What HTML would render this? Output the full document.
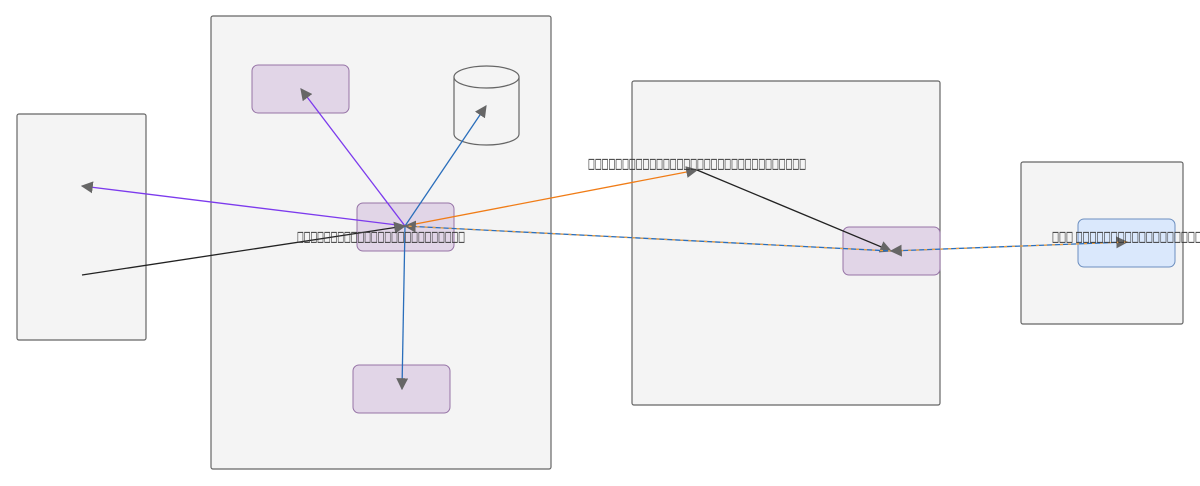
<!DOCTYPE html>
<html><head><meta charset="utf-8"><style>html,body{margin:0;padding:0;background:#fff}svg{display:block}</style></head><body>
<svg width="1200" height="486" viewBox="0 0 1200 486" xmlns="http://www.w3.org/2000/svg">
<defs>
<marker id="a" viewBox="0 0 10 10" refX="9" refY="5" markerWidth="12" markerHeight="12" markerUnits="userSpaceOnUse" orient="auto"><path d="M0,0L10,5L0,10z" fill="#666"/></marker>
</defs>
<g fill="#f4f4f4" stroke="#666" stroke-width="1.2">
<rect x="17" y="114" width="129" height="226" rx="2"/>
<rect x="211" y="16" width="340" height="453" rx="2"/>
<rect x="632" y="81" width="308" height="324" rx="2"/>
<rect x="1021" y="162" width="162" height="162" rx="2"/>
</g>
<g fill="#e1d5e7" stroke="#9673a6" stroke-width="1">
<rect x="252" y="65" width="97" height="48" rx="6"/>
<rect x="357" y="203" width="97" height="48" rx="6"/>
<rect x="353" y="365" width="97" height="48" rx="6"/>
<rect x="843" y="227" width="97" height="48" rx="6"/>
</g>
<rect x="1078" y="219" width="97" height="48" rx="6" fill="#dae8fc" stroke="#6c8ebf"/>
<g fill="#f4f4f4" stroke="#666" stroke-width="1.2">
<path d="M454,77 V134 A32.5,11 0 0 0 519,134 V77"/>
<ellipse cx="486.5" cy="77" rx="32.5" ry="11"/>
</g>
<g fill="none" stroke-width="1.3">
<path d="M405,226 L301,89" stroke="#7c3aed" marker-end="url(#a)"/>
<path d="M405,226 L486,106" stroke="#2a6ebb" marker-end="url(#a)"/>
<path d="M405,226 L402,389" stroke="#2a6ebb" marker-end="url(#a)"/>
<path d="M405,226 L82,186" stroke="#7c3aed" marker-end="url(#a)"/>
<path d="M82,275 L405,226" stroke="#222" marker-end="url(#a)"/>
<path d="M405,226 L697,170" stroke="#f07c16" marker-end="url(#a)"/>
<path d="M697,170 L891,251" stroke="#222" marker-end="url(#a)"/>
<path d="M891,251 L405,226" stroke="#2a6ebb" marker-end="url(#a)"/>
<path d="M891,251 L405,226" stroke="#f0a040" stroke-dasharray="3 5"/>
<path d="M891,251 L1127,242" stroke="#2a6ebb" marker-end="url(#a)"/>
<path d="M1127,242 L891,251" stroke="#f0a040" stroke-dasharray="3 5" marker-end="url(#a)"/>
</g>
<g font-family="DejaVu Sans, sans-serif" font-size="14" fill="#333" stroke="#444" stroke-width="0.3">
<text x="588" y="168" textLength="218" lengthAdjust="spacingAndGlyphs">□□□□□□□□□□□□□□□□□□□□□□□□□□□□□□□□</text>
<text x="297" y="241" textLength="168" lengthAdjust="spacingAndGlyphs">□□□□□□□□□□□□□□□□□□□□□□□□□</text>
<text x="1052" y="241" textLength="150" lengthAdjust="spacingAndGlyphs">□□□ □□□□□□□□□□□□□□□□□□</text>
</g>
</svg>
</body></html>
